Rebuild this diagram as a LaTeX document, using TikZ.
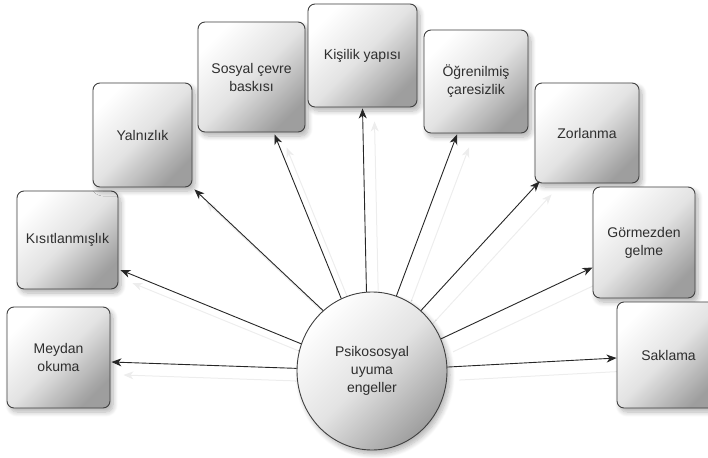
\documentclass[tikz,border=0pt]{standalone}
\usepackage{fontspec}
\setmainfont{Liberation Sans}
\usetikzlibrary{arrows.meta,shapes.geometric,shadows.blur,calc}
\pgfdeclarelayer{bg}
\pgfsetlayers{bg,main}
\begin{document}
\begin{tikzpicture}[x=1pt,y=-1pt,
  base/.style={draw=black!75, line width=0.9pt, top color=white, bottom color=black!38, middle color=black!11, shading angle=45,
    align=center, text=black!82, font=\fontsize{14}{18}\selectfont, inner sep=0pt,
    blur shadow={shadow xshift=3pt, shadow yshift=-4pt, shadow blur steps=8, shadow blur radius=5pt, shadow opacity=30}},
  box/.style={base, rounded corners=7pt},
  ell/.style={base, ellipse},
  arr/.style={draw=black!85, line width=0.9pt, -{Stealth[length=10pt,width=8pt,inset=3pt]}},
  ghost/.style={draw=black!7, line width=1pt, -{Stealth[length=10pt,width=8pt,inset=3pt]}}
]
\useasboundingbox (0,0) rectangle (708,457);
\clip (0,0) rectangle (708,457);

\node[box, minimum width=103pt, minimum height=101pt] (m)  at (58.5,357.5) {Meydan\\okuma};
\node[box, minimum width=101pt, minimum height=98pt]  (k)  at (67.5,240)   {Kısıtlanmışlık};
\node[box, minimum width=99pt,  minimum height=104pt] (y)  at (142.5,135)  {Yalnızlık};
\node[box, minimum width=107pt, minimum height=110pt] (s)  at (251.5,77)   {Sosyal çevre\\baskısı};
\node[box, minimum width=109pt, minimum height=103pt] (ki) at (362.5,55.5) {Kişilik yapısı};
\node[box, minimum width=104pt, minimum height=103pt] (o)  at (476,81.5)   {Öğrenilmiş\\çaresizlik};
\node[box, minimum width=104pt, minimum height=100pt] (z)  at (587,133)    {Zorlanma};
\node[box, minimum width=102pt, minimum height=111pt] (g)  at (644,242.5)  {Görmezden\\gelme};
\node[box, minimum width=103pt, minimum height=106pt] (sa) at (668.5,355)  {Saklama};
\node[ell, minimum width=150pt, minimum height=158pt] (e)  at (372,371)    {Psikososyal\\uyuma\\engeller};

\coordinate (tm)  at ($(m.east)+(1,4.5)$);
\coordinate (tk)  at ($(k.east)+(2,30)$);
\coordinate (ty)  at ($(y.south east)+(2,2)$);
\coordinate (ts)  at ($(s.south)+(23,2)$);
\coordinate (tki) at ($(ki.south)+(0,1)$);
\coordinate (to)  at ($(o.south)+(-19,1)$);
\coordinate (tz)  at ($(z.south west)+(5,-2)$);
\coordinate (tg)  at ($(g.west)+(0,25)$);
\coordinate (tsa) at ($(sa.west)+(0,3)$);

\begin{pgfonlayer}{bg}
\begin{scope}[transform canvas={xshift=12pt,yshift=-13pt}]
\foreach \a/\b in {178/tm,159/tk,129/ty,113/ts,94/tki,72/to,51/tz,25/tg,3/tsa}
  \draw[ghost] (e.\a) -- (\b);
\end{scope}
\end{pgfonlayer}

\foreach \a/\b in {178/tm,159/tk,129/ty,113/ts,94/tki,72/to,51/tz,25/tg,3/tsa}
  \draw[arr] (e.\a) -- (\b);
\end{tikzpicture}
\end{document}
